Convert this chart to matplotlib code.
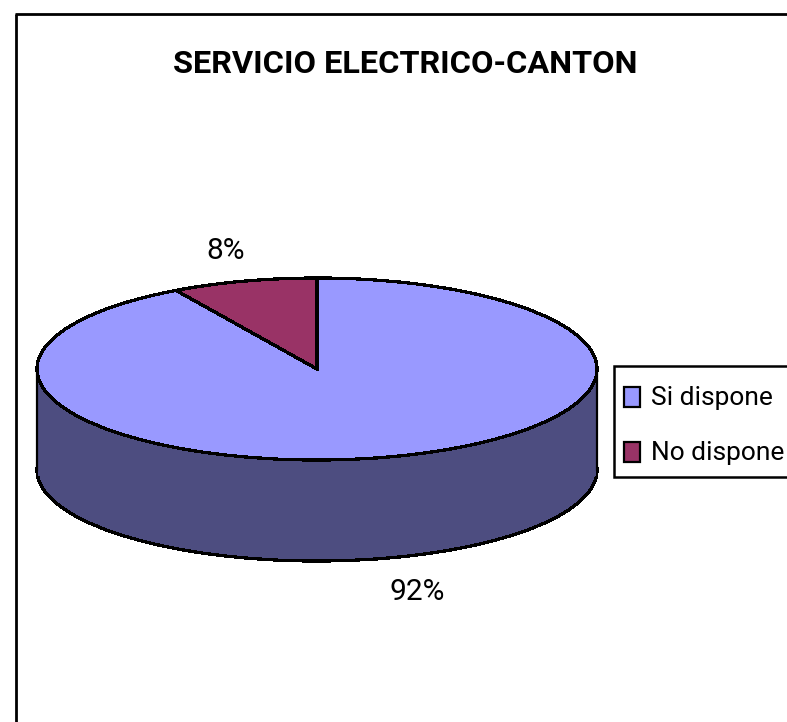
import matplotlib
matplotlib.use("Agg")
import matplotlib.pyplot as plt
from matplotlib.patches import Rectangle

W, H = 787, 722
labels = ["Si dispone", "No dispone"]
values = [91.6, 8.4]
pct_labels = ["92%", "8%"]
title = "SERVICIO ELECTRICO-CANTON"
top_colors = ["#9999FF", "#993366"]
side_color = "#4D4D80"

plt.rcParams["font.family"] = ["Roboto", "Liberation Sans", "DejaVu Sans"]
fig = plt.figure(figsize=(W / 100, H / 100), dpi=100, facecolor="white")

def px_axes(x0, y0, x1, y1, z):
    ax = fig.add_axes([x0 / W, 1 - y1 / H, (x1 - x0) / W, (y1 - y0) / H], zorder=z)
    ax.patch.set_alpha(0)
    return ax

edge = dict(edgecolor="black", linewidth=1.6, antialiased=False)

bg = fig.add_axes([0, 0, 1, 1], zorder=2)
bg.set_xlim(0, W); bg.set_ylim(H, 0); bg.axis("off")
bg.plot([16, 16], [H + 5, 14], color="black", lw=2, solid_capstyle="butt")
bg.plot([15, W + 5], [14, 14], color="black", lw=2, solid_capstyle="butt")

# side wall: lower pie plus the band joining it to the top pie
depth = 101
low = px_axes(37, 278 + depth, 597, 460 + depth, 1)
low.pie(values, startangle=90, counterclock=False, radius=1,
        colors=[side_color, side_color], wedgeprops=edge)
low.set_aspect("auto"); low.set_xlim(-1, 1); low.set_ylim(-1, 1)
bg.add_patch(Rectangle((38, 369), 558, depth + 6, facecolor=side_color,
                       edgecolor="none", zorder=5))
bg.plot([37, 37], [369, 369 + depth], color="black", lw=1.6, zorder=6)
bg.plot([597, 597], [369, 369 + depth], color="black", lw=1.6, zorder=6)

top = px_axes(37, 278, 597, 460, 3)
top.pie(values, startangle=90, counterclock=False, radius=1,
        colors=top_colors, wedgeprops=edge)
top.set_aspect("auto"); top.set_xlim(-1, 1); top.set_ylim(-1, 1)

txt = fig.add_axes([0, 0, 1, 1], zorder=4)
txt.set_xlim(0, W); txt.set_ylim(H, 0); txt.axis("off")
txt.text(405.5, 64, title, ha="center", va="center", fontsize=23.4, fontweight="bold")
txt.text(417, 592, pct_labels[0], ha="center", va="center", fontsize=21.5)
txt.text(226, 251, pct_labels[1], ha="center", va="center", fontsize=21.5)

# legend
txt.add_patch(Rectangle((614, 366), W - 614 + 5, 111, facecolor="white",
                        edgecolor="black", lw=1.8))
for y, lab, c in zip([397, 452], labels, top_colors):
    txt.add_patch(Rectangle((624, y - 10), 16, 20, facecolor=c,
                            edgecolor="black", lw=1.6))
    txt.text(651, y + 1, lab, ha="left", va="center", fontsize=19)

fig.savefig("out.png", dpi=100, facecolor="white")
